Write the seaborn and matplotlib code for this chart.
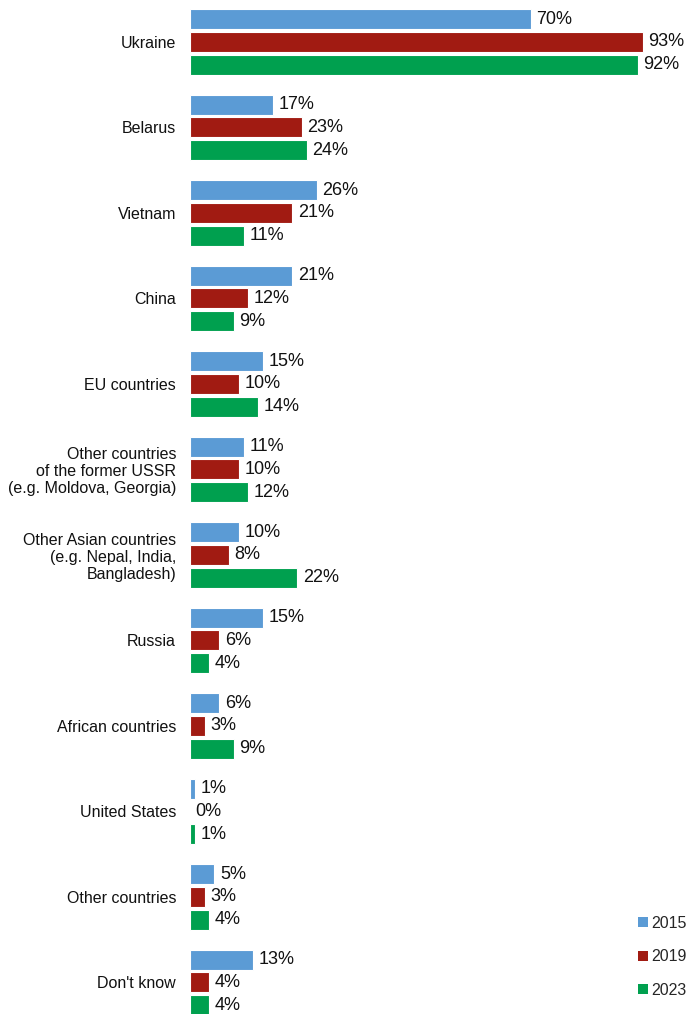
import matplotlib
matplotlib.use("Agg")
import matplotlib.pyplot as plt
from matplotlib.patches import Patch
import seaborn as sns
import pandas as pd

categories = [
    "Ukraine", "Belarus", "Vietnam", "China", "EU countries",
    "Other countries\nof the former USSR\n(e.g. Moldova, Georgia)",
    "Other Asian countries\n(e.g. Nepal, India,\nBangladesh)",
    "Russia", "African countries", "United States", "Other countries", "Don't know",
]
years = ["2015", "2019", "2023"]
v2015 = [70, 17, 26, 21, 15, 11, 10, 15, 6, 1, 5, 13]
v2019 = [93, 23, 21, 12, 10, 10, 8, 6, 3, 0, 3, 4]
v2023 = [92, 24, 11, 9, 14, 12, 22, 4, 9, 1, 4, 4]
colors = ["#5B9BD5", "#A11B12", "#00A04F"]

rows = []
for yr, vals in zip(years, [v2015, v2019, v2023]):
    for c, v in zip(categories, vals):
        rows.append({"category": c, "value": v, "year": yr})
df = pd.DataFrame(rows)

sns.set_theme(style="white")
plt.rcParams["font.family"] = ["Liberation Sans", "DejaVu Sans"]

fig = plt.figure(figsize=(6.88, 10.14), dpi=100)
ax = fig.add_axes([190 / 688, 0, 498 / 688, 1])

sns.barplot(data=df, y="category", x="value", hue="year", orient="h",
            palette=colors, hue_order=years, order=categories, saturation=1,
            width=0.8, gap=0.12, linewidth=0.8, edgecolor="white",
            legend=False, ax=ax)

for cont in ax.containers:
    ax.bar_label(cont, fmt="%g%%", padding=4, fontsize=13, color="#111111")

ax.set_xlim(0, 498 / 4.87)
ax.set_ylim(11.37, -0.49)
ax.set_xlabel("")
ax.set_ylabel("")
ax.set_xticks([])
for s in ax.spines.values():
    s.set_visible(False)
ax.tick_params(axis="y", length=0, pad=10, labelsize=11.5, colors="#111111")
for lbl in ax.get_yticklabels():
    lbl.set_linespacing(1.17)
    lbl.set_horizontalalignment("right")

handles = [Patch(facecolor=c, edgecolor="none") for c in colors]
fig.legend(handles, years, loc="upper left", bbox_to_anchor=(638 / 688, 1 - 916 / 1014),
           frameon=False, fontsize=11.5, handlelength=0.6, handleheight=0.6,
           handletextpad=0.25, labelspacing=1.15, borderpad=0, borderaxespad=0)

fig.savefig("out.png", dpi=100)
